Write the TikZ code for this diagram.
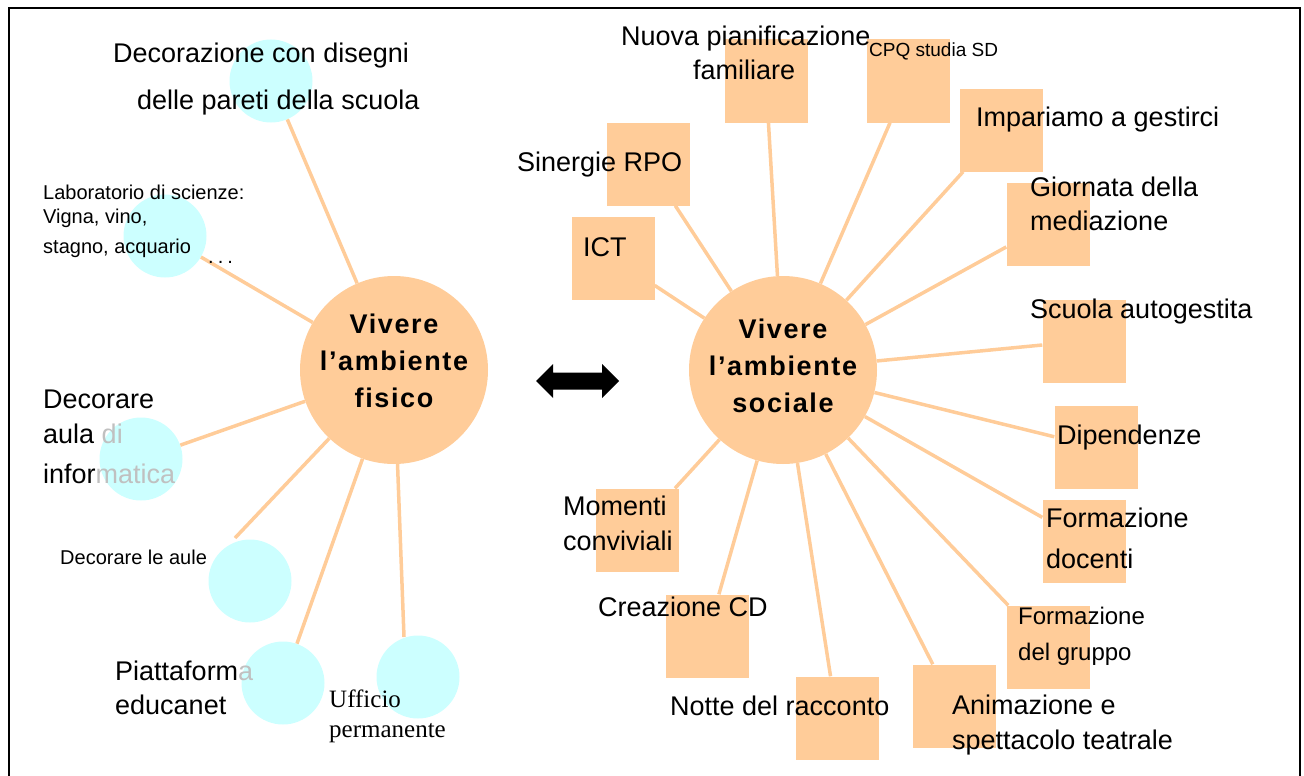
\documentclass[tikz,border=0pt]{standalone}
\usepackage{fontspec}
\setmainfont{Liberation Sans}
\newfontfamily\timesfont{Liberation Serif}
\newfontfamily\hubfont[LetterSpace=6]{Liberation Sans}
\usepackage{tikz}
\definecolor{peach}{HTML}{FFCC99}
\definecolor{aqua}{HTML}{CCFFFF}
\definecolor{greytxt}{HTML}{C0C0C0}

\tikzset{
  hub/.style={circle, fill=peach, minimum size=188pt, inner sep=0pt},
  hubtext/.style={align=center, inner sep=0pt, font=\hubfont\bfseries\fontsize{27}{37}\selectfont},
  ball/.style={circle, fill=aqua, minimum size=83pt, inner sep=0pt},
  tile/.style={rectangle, fill=peach, minimum size=83pt, inner sep=0pt},
  spoke/.style={draw=peach, line width=3.5pt},
  lbl/.style={anchor=base west, inner sep=0pt, align=left, font=\fontsize{27}{34}\selectfont},
  lblsmall/.style={lbl, font=\fontsize{20}{24}\selectfont},
}

\begin{document}
\begin{tikzpicture}[x=1pt,y=-1pt]
		\useasboundingbox (0,0) rectangle (1304,776);
		\draw[line width=1.5pt] (9,790) -- (9,8) -- (1300,8) -- (1300,790);
		% the two hubs
		\node[hub] (fisico) at (394,370) {};
		\node[hub] (sociale) at (783,370) {};
		% physical environment
		\node[ball] (decor) at (271,81) {};
		\node[ball] (lab) at (165,236) {};
		\node[ball] (aula) at (141,459) {};
		\node[ball] (aule) at (250,581) {};
		\node[ball] (piatt) at (283,683) {};
		\node[ball] (ufficio) at (418,677) {};
		\coordinate (auleend) at (235,538);
		\coordinate (ufficioend) at (404,637);
		% social environment
		\node[tile] (nuova) at (766,81) {};
		\node[tile] (cpq) at (908,81) {};
		\node[tile] (sinergie) at (648,164) {};
		\node[tile] (ict) at (613,258) {};
		\node[tile] (impar) at (1001,130) {};
		\node[tile] (giorn) at (1048,224) {};
		\node[tile] (scuola) at (1084,341) {};
		\node[tile] (dipend) at (1096,447) {};
		\node[tile] (formdoc) at (1084,541) {};
		\node[tile] (formgrp) at (1048,647) {};
		\node[tile] (anim) at (954,706) {};
		\node[tile] (notte) at (837,718) {};
		\node[tile] (crea) at (707,636) {};
		\node[tile] (momenti) at (637,530) {};
		% spokes
		\draw[spoke] (fisico) -- (decor);
		\draw[spoke] (fisico) -- (lab);
		\draw[spoke] (fisico) -- (aula);
		\draw[spoke] (fisico) -- (auleend);
		\draw[spoke] (fisico) -- (piatt);
		\draw[spoke] (fisico) -- (ufficioend);
		\draw[spoke] (sociale) -- (nuova);
		\draw[spoke] (sociale) -- (cpq);
		\draw[spoke] (sociale) -- (sinergie);
		\draw[spoke] (sociale) -- (ict);
		\draw[spoke] (sociale) -- (impar);
		\draw[spoke] (sociale) -- (giorn);
		\draw[spoke] (sociale) -- (scuola);
		\draw[spoke] (sociale) -- (dipend);
		\draw[spoke] (sociale) -- (formdoc);
		\draw[spoke] (sociale) -- (formgrp);
		\draw[spoke] (sociale) -- (anim);
		\draw[spoke] (sociale) -- (notte);
		\draw[spoke] (sociale) -- (crea);
		\draw[spoke] (sociale) -- (momenti);
		% double arrow between the hubs
		\fill (536,381) -- (553,364) -- (553,372.5) -- (602,372.5) -- (602,364) -- (619,381)
			-- (602,398) -- (602,389.5) -- (553,389.5) -- (553,398) -- cycle;
		% texts (multi-line ones sit on their last baseline)
		\node[hubtext] (fisicotxt) at (394,361) {Vivere\\l’ambiente\\fisico};
		\node[hubtext] (socialetxt) at (783,366) {Vivere\\l’ambiente\\sociale};
		\node[lbl] (decortxt) at (113,109) {Decorazione con disegni\\[13pt]\hspace*{24pt}delle pareti della scuola};
		\node[lblsmall] (labtxt) at (43,253) {Laboratorio di scienze:\\Vigna, vino,\\[6pt]stagno, acquario};
		\node[lblsmall] (dots) at (208,263) {.\hspace{4pt}.\hspace{4pt}.};
		\node[lbl] (aulatxt) at (43,483) {Decorare\\[1pt]aula \textcolor{greytxt}{di}\\[6pt]infor\textcolor{greytxt}{matica}};
		\node[lblsmall] (auletxt) at (60,564) {Decorare le aule};
		\node[lbl] (piatttxt) at (115,714) {Piattaform\textcolor{greytxt}{a}\\educanet};
		\node[lbl, font=\timesfont\fontsize{25}{30}\selectfont] (ufficiotxt) at (329,737) {Ufficio\\permanente};
		\node[lbl] (nuovatxt) at (621,79) {Nuova pianificazione\\\hspace*{72pt}familiare};
		\node[lbl, font=\fontsize{19}{23}\selectfont] (cpqtxt) at (869,57) {CPQ studia SD};
		\node[lbl] (sinergietxt) at (517,171) {Sinergie RPO};
		\node[lbl] (icttxt) at (583,256) {ICT};
		\node[lbl] (impartxt) at (976,126) {Impariamo a gestirci};
		\node[lbl] (giorntxt) at (1030,230) {Giornata della\\mediazione};
		\node[lbl] (scuolatxt) at (1030,318) {Scuola autogestita};
		\node[lbl] (dipendtxt) at (1057,444) {Dipendenze};
		\node[lbl] (formdoctxt) at (1046,568) {Formazione\\[7pt]docenti};
		\node[lbl, font=\fontsize{24}{36}\selectfont] (formgrptxt) at (1018,660) {Formazione\\del gruppo};
		\node[lbl] (animtxt) at (952,749) {Animazione e\\[1pt]spettacolo teatrale};
		\node[lbl] (nottetxt) at (670,715) {Notte del racconto};
		\node[lbl] (creatxt) at (598,616) {Creazione CD};
		\node[lbl] (momentitxt) at (563,550) {Momenti\\[1pt]conviviali};
\end{tikzpicture}
\end{document}
